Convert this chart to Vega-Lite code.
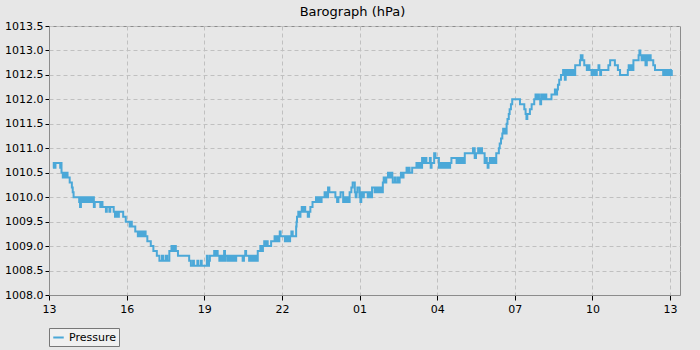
{
  "$schema": "https://vega.github.io/schema/vega-lite/v6.json",
  "autosize": {"type": "fit", "contains": "padding"},
  "width": 700,
  "height": 350,
  "background": "#e7e7e7",
  "padding": {"left": 4, "right": 20, "top": 6, "bottom": 3},
  "title": {"text": "Barograph (hPa)", "font": "DejaVu Sans", "fontSize": 13, "fontWeight": "normal", "color": "#000000", "anchor": "middle", "offset": 1, "dx": -12},
  "config": {
    "view": {"stroke": "#8c8c8c", "fill": "#e7e7e7"},
    "axis": {"labelFont": "DejaVu Sans", "labelFontSize": 11, "labelColor": "#000000", "tickColor": "#000000", "domainColor": "#8c8c8c", "titleFont": "DejaVu Sans"}
  },
  "data": {"values": [
    {"t":"2024-03-01T13:09","p":1010.6},{"t":"2024-03-01T13:11","p":1010.7},{"t":"2024-03-01T13:13","p":1010.6},{"t":"2024-03-01T13:15","p":1010.7},
    {"t":"2024-03-01T13:26","p":1010.6},{"t":"2024-03-01T13:28","p":1010.7},{"t":"2024-03-01T13:29","p":1010.5},{"t":"2024-03-01T13:32","p":1010.4},
    {"t":"2024-03-01T13:35","p":1010.5},{"t":"2024-03-01T13:38","p":1010.4},{"t":"2024-03-01T13:41","p":1010.5},{"t":"2024-03-01T13:43","p":1010.4},
    {"t":"2024-03-01T13:48","p":1010.3},{"t":"2024-03-01T13:53","p":1010.2},{"t":"2024-03-01T13:55","p":1010.1},{"t":"2024-03-01T13:57","p":1010.0},
    {"t":"2024-03-01T14:10","p":1009.9},{"t":"2024-03-01T14:12","p":1009.8},{"t":"2024-03-01T14:14","p":1010.0},{"t":"2024-03-01T14:16","p":1009.9},
    {"t":"2024-03-01T14:18","p":1010.0},{"t":"2024-03-01T14:22","p":1009.9},{"t":"2024-03-01T14:26","p":1010.0},{"t":"2024-03-01T14:30","p":1009.9},
    {"t":"2024-03-01T14:34","p":1010.0},{"t":"2024-03-01T14:38","p":1009.9},{"t":"2024-03-01T14:41","p":1010.0},{"t":"2024-03-01T14:44","p":1009.8},
    {"t":"2024-03-01T14:46","p":1009.9},{"t":"2024-03-01T14:59","p":1009.8},{"t":"2024-03-01T15:02","p":1009.9},{"t":"2024-03-01T15:04","p":1009.8},
    {"t":"2024-03-01T15:12","p":1009.7},{"t":"2024-03-01T15:14","p":1009.8},{"t":"2024-03-01T15:20","p":1009.7},{"t":"2024-03-01T15:22","p":1009.8},
    {"t":"2024-03-01T15:30","p":1009.7},{"t":"2024-03-01T15:33","p":1009.6},{"t":"2024-03-01T15:36","p":1009.7},{"t":"2024-03-01T15:39","p":1009.6},
    {"t":"2024-03-01T15:42","p":1009.7},{"t":"2024-03-01T15:52","p":1009.6},{"t":"2024-03-01T15:58","p":1009.5},{"t":"2024-03-01T16:07","p":1009.4},
    {"t":"2024-03-01T16:10","p":1009.5},{"t":"2024-03-01T16:12","p":1009.4},{"t":"2024-03-01T16:20","p":1009.3},{"t":"2024-03-01T16:26","p":1009.2},
    {"t":"2024-03-01T16:29","p":1009.3},{"t":"2024-03-01T16:32","p":1009.2},{"t":"2024-03-01T16:36","p":1009.3},{"t":"2024-03-01T16:39","p":1009.2},
    {"t":"2024-03-01T16:42","p":1009.3},{"t":"2024-03-01T16:44","p":1009.2},{"t":"2024-03-01T16:48","p":1009.1},{"t":"2024-03-01T16:56","p":1009.0},
    {"t":"2024-03-01T17:02","p":1008.9},{"t":"2024-03-01T17:10","p":1008.8},{"t":"2024-03-01T17:16","p":1008.7},{"t":"2024-03-01T17:22","p":1008.8},
    {"t":"2024-03-01T17:25","p":1008.7},{"t":"2024-03-01T17:31","p":1008.8},{"t":"2024-03-01T17:34","p":1008.7},{"t":"2024-03-01T17:39","p":1008.9},
    {"t":"2024-03-01T17:44","p":1009.0},{"t":"2024-03-01T17:47","p":1008.9},{"t":"2024-03-01T17:50","p":1009.0},{"t":"2024-03-01T17:54","p":1008.9},
    {"t":"2024-03-01T17:59","p":1008.8},{"t":"2024-03-01T18:25","p":1008.7},{"t":"2024-03-01T18:29","p":1008.6},{"t":"2024-03-01T18:34","p":1008.7},
    {"t":"2024-03-01T18:36","p":1008.6},{"t":"2024-03-01T18:44","p":1008.7},{"t":"2024-03-01T18:46","p":1008.6},{"t":"2024-03-01T18:52","p":1008.7},
    {"t":"2024-03-01T18:54","p":1008.6},{"t":"2024-03-01T19:06","p":1008.8},{"t":"2024-03-01T19:08","p":1008.6},{"t":"2024-03-01T19:11","p":1008.7},
    {"t":"2024-03-01T19:13","p":1008.8},{"t":"2024-03-01T19:23","p":1008.9},{"t":"2024-03-01T19:26","p":1008.8},{"t":"2024-03-01T19:29","p":1008.9},
    {"t":"2024-03-01T19:31","p":1008.8},{"t":"2024-03-01T19:35","p":1008.7},{"t":"2024-03-01T19:39","p":1008.8},{"t":"2024-03-01T19:42","p":1008.7},
    {"t":"2024-03-01T19:46","p":1008.9},{"t":"2024-03-01T19:48","p":1008.7},{"t":"2024-03-01T19:50","p":1008.8},{"t":"2024-03-01T19:55","p":1008.7},
    {"t":"2024-03-01T19:59","p":1008.8},{"t":"2024-03-01T20:03","p":1008.7},{"t":"2024-03-01T20:07","p":1008.8},{"t":"2024-03-01T20:10","p":1008.7},
    {"t":"2024-03-01T20:14","p":1008.8},{"t":"2024-03-01T20:29","p":1008.7},{"t":"2024-03-01T20:32","p":1008.8},{"t":"2024-03-01T20:35","p":1008.9},
    {"t":"2024-03-01T20:37","p":1008.8},{"t":"2024-03-01T20:44","p":1008.7},{"t":"2024-03-01T20:48","p":1008.8},{"t":"2024-03-01T20:52","p":1008.7},
    {"t":"2024-03-01T20:56","p":1008.8},{"t":"2024-03-01T21:00","p":1008.7},{"t":"2024-03-01T21:04","p":1008.9},{"t":"2024-03-01T21:10","p":1009.0},
    {"t":"2024-03-01T21:13","p":1008.9},{"t":"2024-03-01T21:16","p":1009.0},{"t":"2024-03-01T21:19","p":1009.1},{"t":"2024-03-01T21:22","p":1009.0},
    {"t":"2024-03-01T21:25","p":1009.1},{"t":"2024-03-01T21:27","p":1009.0},{"t":"2024-03-01T21:35","p":1009.1},{"t":"2024-03-01T21:43","p":1009.2},
    {"t":"2024-03-01T21:46","p":1009.1},{"t":"2024-03-01T21:49","p":1009.2},{"t":"2024-03-01T21:50","p":1009.1},{"t":"2024-03-01T21:54","p":1009.2},
    {"t":"2024-03-01T21:55","p":1009.3},{"t":"2024-03-01T21:57","p":1009.2},{"t":"2024-03-01T22:07","p":1009.1},{"t":"2024-03-01T22:11","p":1009.2},
    {"t":"2024-03-01T22:15","p":1009.1},{"t":"2024-03-01T22:19","p":1009.2},{"t":"2024-03-01T22:22","p":1009.3},{"t":"2024-03-01T22:25","p":1009.2},
    {"t":"2024-03-01T22:33","p":1009.4},{"t":"2024-03-01T22:34","p":1009.5},{"t":"2024-03-01T22:35","p":1009.6},{"t":"2024-03-01T22:38","p":1009.7},
    {"t":"2024-03-01T22:40","p":1009.6},{"t":"2024-03-01T22:43","p":1009.7},{"t":"2024-03-01T22:46","p":1009.8},{"t":"2024-03-01T22:49","p":1009.7},
    {"t":"2024-03-01T22:52","p":1009.8},{"t":"2024-03-01T22:54","p":1009.7},{"t":"2024-03-01T23:00","p":1009.6},{"t":"2024-03-01T23:03","p":1009.7},
    {"t":"2024-03-01T23:06","p":1009.8},{"t":"2024-03-01T23:11","p":1009.9},{"t":"2024-03-01T23:19","p":1010.0},{"t":"2024-03-01T23:22","p":1009.9},
    {"t":"2024-03-01T23:26","p":1010.0},{"t":"2024-03-01T23:29","p":1009.9},{"t":"2024-03-01T23:32","p":1010.0},{"t":"2024-03-01T23:39","p":1010.1},
    {"t":"2024-03-01T23:43","p":1010.0},{"t":"2024-03-01T23:47","p":1010.2},{"t":"2024-03-01T23:50","p":1010.1},
    {"t":"2024-03-02T00:04","p":1010.0},{"t":"2024-03-02T00:08","p":1009.9},{"t":"2024-03-02T00:11","p":1010.0},{"t":"2024-03-02T00:16","p":1010.1},
    {"t":"2024-03-02T00:22","p":1009.9},{"t":"2024-03-02T00:25","p":1010.0},{"t":"2024-03-02T00:29","p":1009.9},{"t":"2024-03-02T00:32","p":1010.0},
    {"t":"2024-03-02T00:35","p":1009.9},{"t":"2024-03-02T00:37","p":1010.1},{"t":"2024-03-02T00:41","p":1010.2},{"t":"2024-03-02T00:44","p":1010.3},
    {"t":"2024-03-02T00:49","p":1010.1},{"t":"2024-03-02T00:51","p":1010.0},{"t":"2024-03-02T00:53","p":1010.1},{"t":"2024-03-02T00:55","p":1010.2},
    {"t":"2024-03-02T01:00","p":1010.0},{"t":"2024-03-02T01:02","p":1009.9},{"t":"2024-03-02T01:04","p":1010.1},{"t":"2024-03-02T01:07","p":1010.0},
    {"t":"2024-03-02T01:10","p":1010.1},{"t":"2024-03-02T01:19","p":1010.0},{"t":"2024-03-02T01:22","p":1010.1},{"t":"2024-03-02T01:25","p":1010.0},
    {"t":"2024-03-02T01:29","p":1010.2},{"t":"2024-03-02T01:35","p":1010.1},{"t":"2024-03-02T01:39","p":1010.2},{"t":"2024-03-02T01:43","p":1010.1},
    {"t":"2024-03-02T01:47","p":1010.2},{"t":"2024-03-02T01:50","p":1010.1},{"t":"2024-03-02T01:54","p":1010.3},{"t":"2024-03-02T01:56","p":1010.4},
    {"t":"2024-03-02T01:59","p":1010.3},{"t":"2024-03-02T02:02","p":1010.4},{"t":"2024-03-02T02:06","p":1010.5},{"t":"2024-03-02T02:10","p":1010.4},
    {"t":"2024-03-02T02:13","p":1010.5},{"t":"2024-03-02T02:16","p":1010.4},{"t":"2024-03-02T02:17","p":1010.3},{"t":"2024-03-02T02:22","p":1010.4},
    {"t":"2024-03-02T02:24","p":1010.3},{"t":"2024-03-02T02:29","p":1010.4},{"t":"2024-03-02T02:31","p":1010.3},{"t":"2024-03-02T02:33","p":1010.4},
    {"t":"2024-03-02T02:36","p":1010.5},{"t":"2024-03-02T02:39","p":1010.4},{"t":"2024-03-02T02:42","p":1010.5},{"t":"2024-03-02T02:49","p":1010.6},
    {"t":"2024-03-02T02:52","p":1010.5},{"t":"2024-03-02T02:55","p":1010.6},{"t":"2024-03-02T02:56","p":1010.5},{"t":"2024-03-02T03:02","p":1010.6},
    {"t":"2024-03-02T03:12","p":1010.7},{"t":"2024-03-02T03:15","p":1010.6},{"t":"2024-03-02T03:18","p":1010.7},{"t":"2024-03-02T03:21","p":1010.6},
    {"t":"2024-03-02T03:25","p":1010.8},{"t":"2024-03-02T03:28","p":1010.7},{"t":"2024-03-02T03:31","p":1010.8},{"t":"2024-03-02T03:35","p":1010.7},
    {"t":"2024-03-02T03:43","p":1010.8},{"t":"2024-03-02T03:45","p":1010.6},{"t":"2024-03-02T03:47","p":1010.7},{"t":"2024-03-02T03:53","p":1010.9},
    {"t":"2024-03-02T03:56","p":1010.8},{"t":"2024-03-02T04:04","p":1010.6},{"t":"2024-03-02T04:07","p":1010.7},{"t":"2024-03-02T04:11","p":1010.6},
    {"t":"2024-03-02T04:15","p":1010.7},{"t":"2024-03-02T04:19","p":1010.6},{"t":"2024-03-02T04:23","p":1010.7},{"t":"2024-03-02T04:27","p":1010.6},
    {"t":"2024-03-02T04:30","p":1010.7},{"t":"2024-03-02T04:33","p":1010.8},{"t":"2024-03-02T04:45","p":1010.7},{"t":"2024-03-02T04:49","p":1010.8},
    {"t":"2024-03-02T04:53","p":1010.7},{"t":"2024-03-02T04:57","p":1010.8},{"t":"2024-03-02T05:01","p":1010.7},{"t":"2024-03-02T05:04","p":1010.9},
    {"t":"2024-03-02T05:23","p":1011.0},{"t":"2024-03-02T05:27","p":1010.8},{"t":"2024-03-02T05:30","p":1010.9},{"t":"2024-03-02T05:35","p":1011.0},
    {"t":"2024-03-02T05:38","p":1010.9},{"t":"2024-03-02T05:41","p":1011.0},{"t":"2024-03-02T05:44","p":1010.9},{"t":"2024-03-02T05:50","p":1010.7},
    {"t":"2024-03-02T05:53","p":1010.8},{"t":"2024-03-02T05:55","p":1010.7},{"t":"2024-03-02T05:57","p":1010.6},{"t":"2024-03-02T05:59","p":1010.7},
    {"t":"2024-03-02T06:02","p":1010.8},{"t":"2024-03-02T06:06","p":1010.7},{"t":"2024-03-02T06:10","p":1010.8},{"t":"2024-03-02T06:14","p":1010.7},
    {"t":"2024-03-02T06:17","p":1010.9},{"t":"2024-03-02T06:23","p":1011.0},{"t":"2024-03-02T06:25","p":1011.1},{"t":"2024-03-02T06:28","p":1011.2},
    {"t":"2024-03-02T06:31","p":1011.3},{"t":"2024-03-02T06:33","p":1011.4},{"t":"2024-03-02T06:35","p":1011.3},{"t":"2024-03-02T06:37","p":1011.4},
    {"t":"2024-03-02T06:39","p":1011.3},{"t":"2024-03-02T06:41","p":1011.5},{"t":"2024-03-02T06:43","p":1011.6},{"t":"2024-03-02T06:46","p":1011.7},
    {"t":"2024-03-02T06:48","p":1011.8},{"t":"2024-03-02T06:51","p":1011.9},{"t":"2024-03-02T06:54","p":1012.0},{"t":"2024-03-02T07:12","p":1011.9},
    {"t":"2024-03-02T07:22","p":1011.8},{"t":"2024-03-02T07:25","p":1011.7},{"t":"2024-03-02T07:27","p":1011.6},{"t":"2024-03-02T07:29","p":1011.7},
    {"t":"2024-03-02T07:35","p":1011.8},{"t":"2024-03-02T07:39","p":1011.9},{"t":"2024-03-02T07:45","p":1012.0},{"t":"2024-03-02T07:48","p":1012.1},
    {"t":"2024-03-02T07:51","p":1012.0},{"t":"2024-03-02T07:54","p":1012.1},{"t":"2024-03-02T07:56","p":1012.0},{"t":"2024-03-02T07:59","p":1011.9},
    {"t":"2024-03-02T08:01","p":1012.1},{"t":"2024-03-02T08:04","p":1012.0},{"t":"2024-03-02T08:07","p":1012.1},{"t":"2024-03-02T08:08","p":1012.0},
    {"t":"2024-03-02T08:11","p":1012.1},{"t":"2024-03-02T08:13","p":1012.0},{"t":"2024-03-02T08:25","p":1012.1},{"t":"2024-03-02T08:33","p":1012.2},
    {"t":"2024-03-02T08:36","p":1012.1},{"t":"2024-03-02T08:38","p":1012.2},{"t":"2024-03-02T08:40","p":1012.3},{"t":"2024-03-02T08:43","p":1012.4},
    {"t":"2024-03-02T08:47","p":1012.5},{"t":"2024-03-02T08:52","p":1012.6},{"t":"2024-03-02T08:54","p":1012.5},{"t":"2024-03-02T08:56","p":1012.4},
    {"t":"2024-03-02T08:58","p":1012.6},{"t":"2024-03-02T09:00","p":1012.5},{"t":"2024-03-02T09:04","p":1012.6},{"t":"2024-03-02T09:08","p":1012.5},
    {"t":"2024-03-02T09:12","p":1012.6},{"t":"2024-03-02T09:16","p":1012.5},{"t":"2024-03-02T09:20","p":1012.7},{"t":"2024-03-02T09:31","p":1012.8},
    {"t":"2024-03-02T09:33","p":1012.9},{"t":"2024-03-02T09:37","p":1012.8},{"t":"2024-03-02T09:41","p":1012.7},{"t":"2024-03-02T09:47","p":1012.6},
    {"t":"2024-03-02T09:50","p":1012.7},{"t":"2024-03-02T09:53","p":1012.6},{"t":"2024-03-02T09:58","p":1012.5},{"t":"2024-03-02T10:02","p":1012.6},
    {"t":"2024-03-02T10:06","p":1012.5},{"t":"2024-03-02T10:10","p":1012.6},{"t":"2024-03-02T10:14","p":1012.7},{"t":"2024-03-02T10:16","p":1012.6},
    {"t":"2024-03-02T10:18","p":1012.5},{"t":"2024-03-02T10:20","p":1012.6},{"t":"2024-03-02T10:37","p":1012.7},{"t":"2024-03-02T10:41","p":1012.8},
    {"t":"2024-03-02T10:52","p":1012.7},{"t":"2024-03-02T10:59","p":1012.6},{"t":"2024-03-02T11:04","p":1012.5},{"t":"2024-03-02T11:22","p":1012.6},
    {"t":"2024-03-02T11:24","p":1012.7},{"t":"2024-03-02T11:27","p":1012.6},{"t":"2024-03-02T11:30","p":1012.7},{"t":"2024-03-02T11:33","p":1012.6},
    {"t":"2024-03-02T11:35","p":1012.8},{"t":"2024-03-02T11:47","p":1012.9},{"t":"2024-03-02T11:49","p":1013.0},{"t":"2024-03-02T11:51","p":1012.9},
    {"t":"2024-03-02T11:54","p":1012.8},{"t":"2024-03-02T11:56","p":1012.9},{"t":"2024-03-02T11:59","p":1012.8},{"t":"2024-03-02T12:01","p":1012.9},
    {"t":"2024-03-02T12:03","p":1012.7},{"t":"2024-03-02T12:06","p":1012.9},{"t":"2024-03-02T12:09","p":1012.8},{"t":"2024-03-02T12:12","p":1012.9},
    {"t":"2024-03-02T12:15","p":1012.8},{"t":"2024-03-02T12:21","p":1012.7},{"t":"2024-03-02T12:25","p":1012.6},{"t":"2024-03-02T12:44","p":1012.5},
    {"t":"2024-03-02T12:47","p":1012.6},{"t":"2024-03-02T12:50","p":1012.5},{"t":"2024-03-02T12:53","p":1012.6},{"t":"2024-03-02T12:56","p":1012.5},
    {"t":"2024-03-02T12:59","p":1012.6},{"t":"2024-03-02T13:02","p":1012.5},{"t":"2024-03-02T13:04","p":1012.6}
  ]},
  "mark": {"type": "line", "interpolate": "step-after", "strokeWidth": 2},
  "encoding": {
    "x": {"field": "t", "type": "temporal",
      "scale": {"domain": [{"year": 2024, "month": 3, "date": 1, "hours": 13}, {"year": 2024, "month": 3, "date": 2, "hours": 13, "minutes": 23}]},
      "axis": {"values": [
        {"year": 2024, "month": 3, "date": 1, "hours": 13}, {"year": 2024, "month": 3, "date": 1, "hours": 16},
        {"year": 2024, "month": 3, "date": 1, "hours": 19}, {"year": 2024, "month": 3, "date": 1, "hours": 22},
        {"year": 2024, "month": 3, "date": 2, "hours": 1}, {"year": 2024, "month": 3, "date": 2, "hours": 4},
        {"year": 2024, "month": 3, "date": 2, "hours": 7}, {"year": 2024, "month": 3, "date": 2, "hours": 10},
        {"year": 2024, "month": 3, "date": 2, "hours": 13}],
        "format": "%H", "labelFlush": false, "labelOverlap": false, "grid": true, "gridColor": "#c0c0c0", "gridDash": [4, 3],
        "tickSize": 5, "labelPadding": 3, "title": null}},
    "y": {"field": "p", "type": "quantitative",
      "scale": {"domain": [1008, 1013.5], "nice": false, "zero": false},
      "axis": {"values": [1008, 1008.5, 1009, 1009.5, 1010, 1010.5, 1011, 1011.5, 1012, 1012.5, 1013, 1013.5],
        "format": ".1f", "labelOverlap": false, "grid": true, "gridColor": "#c0c0c0", "gridDash": [4, 3],
        "tickSize": 4, "labelPadding": 2, "title": null}},
    "color": {"datum": "Pressure", "type": "nominal", "scale": {"range": ["#4ba8d8"]},
      "legend": {"orient": "bottom", "title": null, "symbolType": "stroke", "symbolStrokeWidth": 2, "symbolSize": 110,
        "labelFont": "DejaVu Sans", "labelFontSize": 11, "labelColor": "#000000", "strokeColor": "#777777", "fillColor": "#f0f0f0",
        "padding": 3, "offset": 14}}
  }
}
